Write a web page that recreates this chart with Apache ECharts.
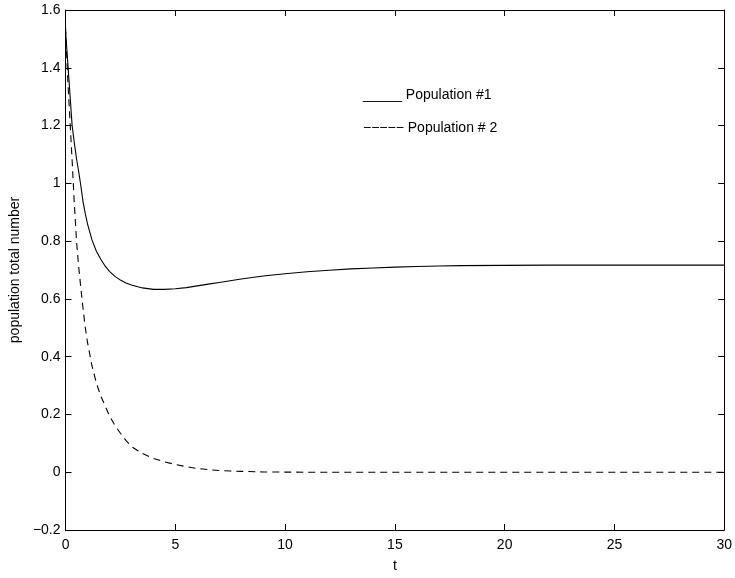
<!DOCTYPE html>
<html>
<head>
<meta charset="utf-8">
<script src="https://cdn.jsdelivr.net/npm/echarts@6/dist/echarts.min.js"></script>
<style>
html,body{margin:0;padding:0;background:#fff;}
#chart{width:735px;height:578px;}
</style>
</head>
<body>
<div id="chart"></div>
<script>
// time samples
var tValues = [0,0.1,0.2,0.3,0.4,0.5,0.6,0.7,0.8,0.9,1.0,1.2,1.4,1.6,1.8,2.0,2.25,2.5,2.75,3,3.5,4,4.5,5,5.5,6,6.5,7,7.5,8,9,10,11,12,13,14,15,16,17,18,20,22,24,26,28,30];
// Population #1 (solid)
var pop1 = [1.53,1.42,1.31,1.20,1.14,1.085,1.04,0.99,0.935,0.895,0.86,0.805,0.766,0.738,0.714,0.695,0.678,0.665,0.655,0.648,0.638,0.633,0.633,0.635,0.639,0.645,0.651,0.657,0.663,0.669,0.679,0.687,0.694,0.699,0.704,0.707,0.710,0.712,0.714,0.715,0.716,0.717,0.717,0.717,0.717,0.717];
// Population #2 (dashed)
var pop2 = [1.54,1.36,1.22,1.08,0.93,0.80,0.71,0.635,0.565,0.50,0.45,0.37,0.31,0.265,0.23,0.195,0.162,0.135,0.11,0.089,0.065,0.048,0.036,0.027,0.019,0.013,0.009,0.006,0.004,0.003,0.001,0.0005,0,0,0,0,0,0,0,0,0,0,0,0,0,0];
var xTicks = {min:0, max:30, interval:5};
var yTicks = {min:-0.2, max:1.6, interval:0.2};
var legendLabels = ['_____ Population #1', '\u2212\u2212\u2212\u2212\u2212 Population # 2'];
var xName = 't';
var yName = 'population total number';

function pairs(xs, ys){ return xs.map(function(x,i){ return [x, ys[i]]; }); }
function fmt(v){ var s = String(Math.round(v*10)/10); return s.replace('-', '\u2212'); }

var FONT = 'Liberation Sans, Arial, Helvetica, sans-serif';
var chart = echarts.init(document.getElementById('chart'), null, {renderer:'canvas'});
var axLine = {show:true, onZero:false, lineStyle:{color:'#000', width:1}};
var tick = {show:true, inside:true, length:6, lineStyle:{color:'#000', width:1}};
chart.setOption({
  animation:false,
  backgroundColor:'#fff',
  grid:{left:60, right:10, top:10, bottom:45, containLabel:false},
  xAxis:[
    {type:'value', min:xTicks.min, max:xTicks.max, interval:xTicks.interval, position:'bottom',
     name:xName, nameLocation:'middle', nameGap:29,
     nameTextStyle:{color:'#000', fontSize:14, fontFamily:FONT},
     axisLine:axLine, axisTick:tick, splitLine:{show:false},
     axisLabel:{color:'#000', fontSize:14, fontFamily:FONT, margin:8, formatter:function(v){return fmt(v);}}},
    {type:'value', min:xTicks.min, max:xTicks.max, interval:xTicks.interval, position:'top',
     axisLine:axLine, axisTick:tick, splitLine:{show:false}, axisLabel:{show:false}}
  ],
  yAxis:[
    {type:'value', min:yTicks.min, max:yTicks.max, interval:yTicks.interval, position:'left',
     name:yName, nameLocation:'middle', nameGap:38,
     nameTextStyle:{color:'#000', fontSize:14, fontFamily:FONT},
     axisLine:axLine, axisTick:tick, splitLine:{show:false},
     axisLabel:{color:'#000', fontSize:14, fontFamily:FONT, margin:5, formatter:function(v){return fmt(v);}}},
    {type:'value', min:yTicks.min, max:yTicks.max, interval:yTicks.interval, position:'right',
     axisLine:axLine, axisTick:tick, splitLine:{show:false}, axisLabel:{show:false}}
  ],
  series:[
    {type:'line', name:'Population #1', xAxisIndex:0, yAxisIndex:0, data:pairs(tValues, pop1),
     smooth:false, showSymbol:false, symbol:'none',
     lineStyle:{color:'#000', width:1.1, type:'solid'}},
    {type:'line', name:'Population # 2', xAxisIndex:0, yAxisIndex:0, data:pairs(tValues, pop2),
     smooth:false, showSymbol:false, symbol:'none',
     lineStyle:{color:'#000', width:1.1, type:[7,5]}}
  ],
  graphic:[
    {type:'text', left:363, top:88, style:{text:legendLabels[0], fill:'#000', font:'14px ' + FONT}},
    {type:'text', left:363, top:121, style:{text:legendLabels[1], fill:'#000', font:'14px ' + FONT}}
  ]
});
</script>
</body>
</html>
